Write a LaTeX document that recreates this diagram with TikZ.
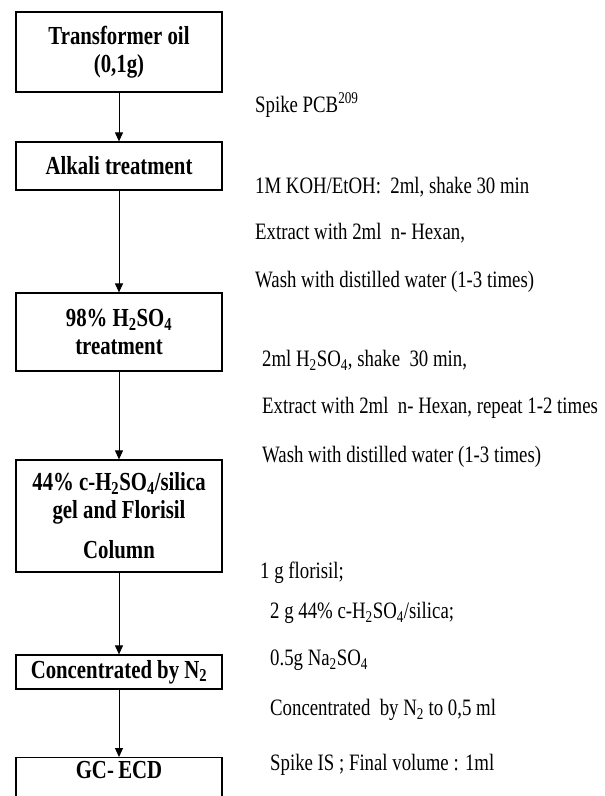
\documentclass[tikz,border=0pt]{standalone}
\usepackage{fontspec}
\setmainfont{Liberation Serif}[FakeStretch=0.8]
\usetikzlibrary{arrows.meta, positioning}

\begin{document}
\begin{tikzpicture}[x=1pt, y=-1pt, >={Triangle[width=8pt,length=9pt]},
		stepbox/.style={rectangle, draw, line width=1.2pt, minimum width=206pt, inner sep=4pt, align=center, font=\fontsize{26}{28}\selectfont\bfseries},
		note/.style={anchor=west, inner sep=0pt, font=\fontsize{23.5}{26}\selectfont}]
		
		\useasboundingbox (0,0) rectangle (605,796);
		\clip (0,0) rectangle (605,796);
		
		% Etapas
		\node[stepbox, minimum height=80pt] (oil) at (119,52) {Transformer oil\\(0,1g)};
		\node[stepbox, minimum height=48pt] (alk) at (119,166) {Alkali treatment};
		\node[stepbox, minimum height=78pt] (acid) at (119,332) {98\% H\textsubscript{2}SO\textsubscript{4}\\treatment};
		\node[stepbox, minimum height=112pt] (col) at (119,516) {44\% c-H\textsubscript{2}SO\textsubscript{4}/silica\\gel and Florisil\\[12pt]Column};
		\node[stepbox, minimum height=34pt] (conc) at (119,672) {Concentrated by N\textsubscript{2}};
		\node[stepbox, anchor=north, text depth=30pt] (gc) at (119,757) {GC-\,ECD};
		
		% Setas
		\draw[->, line width=1pt] (oil) -- (alk);
		\draw[->, line width=1pt] (alk) -- (acid);
		\draw[->, line width=1pt] (acid) -- (col);
		\draw[->, line width=1pt] (col) -- (conc);
		\draw[->, line width=1pt] (conc) -- (gc);
		
		% Condicoes
		\node[note] (n1) at (255,105) {Spike PCB\textsuperscript{209}};
		\node[note] (n2) at (255,187) {1M KOH/EtOH:\ \ 2ml, shake 30 min};
		\node[note] (n3) at (255,233) {Extract with 2ml\ \ n- Hexan,};
		\node[note] (n4) at (255,282) {Wash with distilled water (1-3 times)};
		\node[note] (n5) at (262,360) {2ml H\textsubscript{2}SO\textsubscript{4}, shake\ \ 30 min,};
		\node[note] (n6) at (262,408) {Extract with 2ml\ \ n- Hexan, repeat 1-2 times};
		\node[note] (n7) at (262,457) {Wash with distilled water (1-3 times)};
		\node[note] (n8) at (260,573) {1 g florisil;};
		\node[note] (n9) at (270,613) {2 g 44\% c-H\textsubscript{2}SO\textsubscript{4}/silica;};
		\node[note] (n10) at (270,660) {0.5g Na\textsubscript{2}SO\textsubscript{4}};
		\node[note] (n11) at (270,710) {Concentrated\ \ by N\textsubscript{2} to 0,5 ml};
		\node[note] (n12) at (270,765) {Spike IS ; Final volume : 1ml};
		
	\end{tikzpicture}
\end{document}
